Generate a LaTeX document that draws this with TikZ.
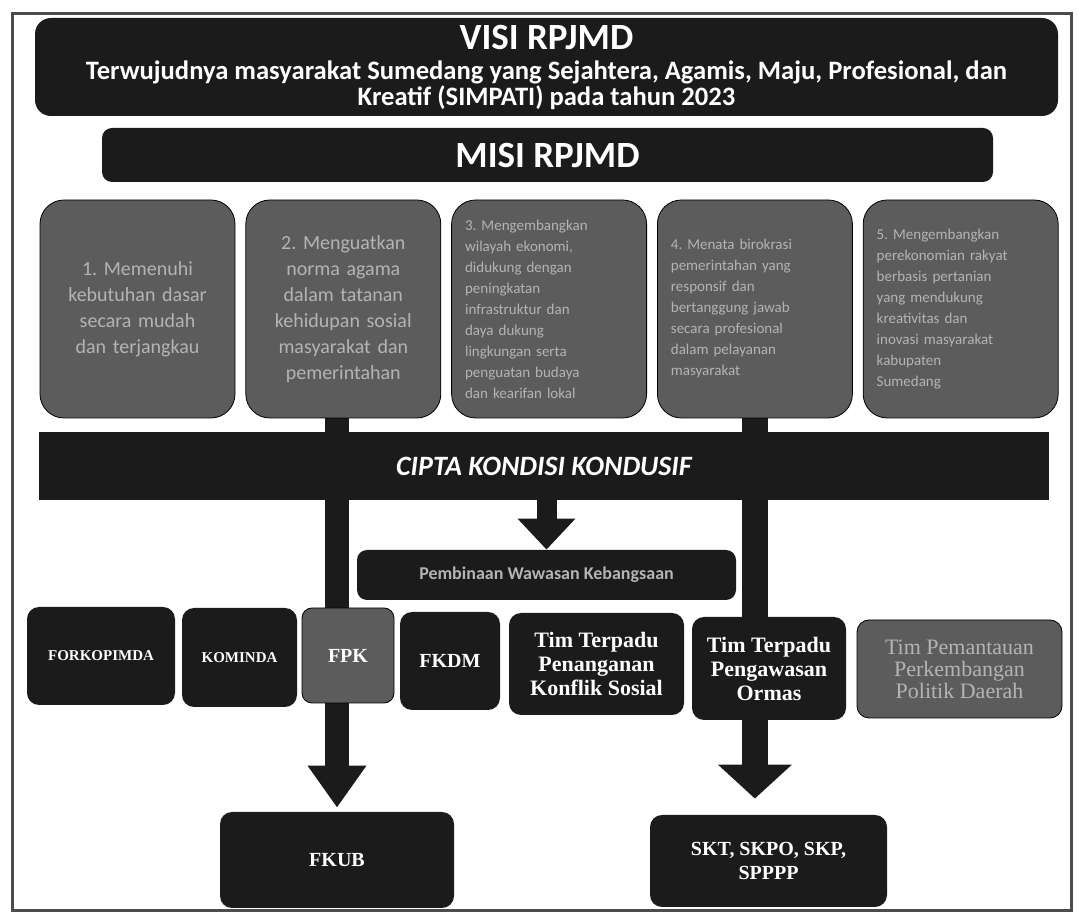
\documentclass[tikz,border=0pt]{standalone}
\usepackage{fontspec}
\setmainfont{Carlito}
\newfontfamily\rowfont{Liberation Serif}
\usetikzlibrary{arrows.meta,positioning}
\definecolor{ink}{HTML}{1B1B1B}
\definecolor{grain}{HTML}{5C5C5C}
\definecolor{graintext}{HTML}{B4B4B4}
\pgfdeclarelayer{background}
\pgfsetlayers{background,main}
\frenchspacing

\begin{document}
\begin{tikzpicture}[x=0.5pt,y=-0.5pt,node distance=5pt,
  dark box/.style={rectangle,rounded corners=5pt,fill=ink,text=white,align=center,inner sep=0pt},
  grain box/.style={rectangle,rounded corners=5pt,draw=black,fill=grain,text=graintext,align=center,inner sep=0pt},
  misi box/.style={grain box,rounded corners=12pt,minimum width=97.5pt,minimum height=109pt,text width=84pt,align=left,font=\fontsize{7.5}{10.5}\selectfont},
  row box/.style={dark box,rounded corners=6pt,font=\rowfont\bfseries\fontsize{11}{12}\selectfont},
  block arrow/.style={draw=ink,line width=12pt,-{Triangle[width=28pt,length=21pt]}}]
	\useasboundingbox (0,0) rectangle (1078,919);
	\draw[line width=1.5pt,draw=gray!60!black] (12,14) rectangle (1071,911);

	\node[dark box,rounded corners=8pt,minimum width=511.5pt,minimum height=49pt,font=\fontsize{13.3}{13}\selectfont\bfseries] (visi) at (546.5,67)
		{{\fontsize{18.5}{18}\selectfont VISI RPJMD}\\[2pt]
		 Terwujudnya masyarakat Sumedang yang Sejahtera, Agamis, Maju, Profesional, dan\\
		 Kreatif (SIMPATI) pada tahun 2023};
	\node[dark box,minimum width=445.5pt,minimum height=27pt,font=\fontsize{18.5}{18}\selectfont\bfseries] (misi) at (547.5,155) {MISI RPJMD};

	% misi
	\node[misi box,align=center,text width=90pt,font=\fontsize{10}{13}\selectfont] (m1) at (137.5,309)
		{1. Memenuhi\\kebutuhan dasar\\secara mudah\\dan terjangkau};
	\node[misi box,align=center,text width=90pt,font=\fontsize{10}{13}\selectfont] (m2) [right=of m1]
		{2. Menguatkan\\norma agama\\dalam tatanan\\kehidupan sosial\\masyarakat dan\\pemerintahan};
	\node[misi box] (m3) [right=of m2]
		{3. Mengembangkan\\wilayah ekonomi,\\didukung dengan\\peningkatan\\infrastruktur dan\\daya dukung\\lingkungan serta\\penguatan budaya\\dan kearifan lokal};
	\node[misi box] (m4) [right=of m3]
		{4. Menata birokrasi\\pemerintahan yang\\responsif dan\\bertanggung jawab\\secara profesional\\dalam pelayanan\\masyarakat};
	\node[misi box] (m5) [right=of m4]
		{5. Mengembangkan\\perekonomian rakyat\\berbasis pertanian\\yang mendukung\\kreativitas dan\\inovasi masyarakat\\kabupaten\\Sumedang};

	\node[rectangle,fill=ink,text=white,minimum width=505pt,minimum height=34pt,font=\fontsize{14}{14}\selectfont\bfseries\itshape] (cipta) at (544,466) {CIPTA KONDISI KONDUSIF};
	\node[dark box,minimum width=189.5pt,minimum height=25pt,text=graintext,font=\fontsize{9}{9}\selectfont\bfseries] (mid) at (546.5,575) {Pembinaan Wawasan Kebangsaan};

	% forum dan tim
	\node[row box,minimum width=74pt,minimum height=49pt,font=\rowfont\bfseries\fontsize{7.5}{9}\selectfont] (forko) at (101,656) {FORKOPIMDA};
	\node[row box,minimum width=57.5pt,minimum height=49.5pt,font=\rowfont\bfseries\fontsize{7.5}{9}\selectfont] (kominda) at (239.5,657.5) {KOMINDA};
	\node[grain box,text=white,minimum width=46pt,minimum height=47.5pt,font=\rowfont\bfseries\fontsize{10}{12}\selectfont] (fpk) at (348,655.5) {FPK};
	\node[row box,minimum width=50pt,minimum height=49pt,font=\rowfont\bfseries\fontsize{10}{12}\selectfont] (fkdm) at (450,661) {FKDM};
	\node[row box,minimum width=87.5pt,minimum height=51pt] (konflik) at (596.5,664) {Tim Terpadu\\Penanganan\\Konflik Sosial};
	\node[row box,minimum width=77pt,minimum height=51.5pt] (ormas) at (769,668.5) {Tim Terpadu\\Pengawasan\\Ormas};
	\node[grain box,rounded corners=6pt,minimum width=102.5pt,minimum height=49pt,font=\rowfont\fontsize{11}{11}\selectfont] (pantau) at (959.5,669) {Tim Pemantauan\\Perkembangan\\Politik Daerah};

	\node[row box,minimum width=117pt,minimum height=48pt,font=\rowfont\bfseries\fontsize{10}{12}\selectfont] (fkub) at (337,860) {FKUB};
	\node[row box,minimum width=118.5pt,minimum height=46pt,font=\rowfont\bfseries\fontsize{10}{12}\selectfont] (skt) at (768.5,861) {SKT, SKPO, SKP,\\SPPPP};

	\begin{pgfonlayer}{background}
	\draw[block arrow,shorten >=2pt] (m2.south -| fkub.north) -- (fkub.north);
	\draw[block arrow,line width=13pt,-{Triangle[width=36pt,length=17pt]},shorten >=8pt] (m4.south) -- (m4.south |- skt.north);
	\draw[block arrow,line width=10pt,-{Triangle[width=28pt,length=15.5pt]}] (cipta.south -| mid.north) -- (mid.north);
	\end{pgfonlayer}
\end{tikzpicture}
\end{document}
